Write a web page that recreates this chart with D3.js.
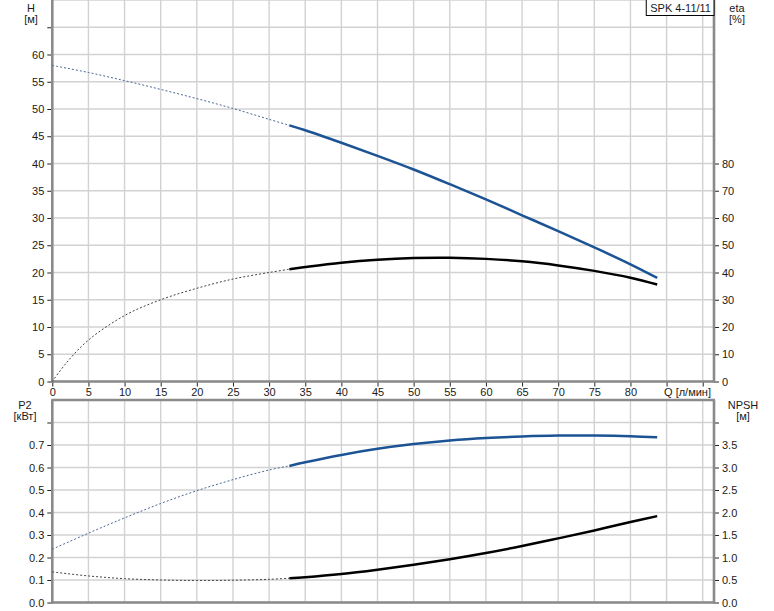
<!DOCTYPE html>
<html>
<head>
<meta charset="utf-8">
<script src="https://cdn.jsdelivr.net/npm/d3@7"></script>
<style>
  html, body { margin: 0; padding: 0; background: #fff; }
  svg { display: block; font-family: "Liberation Sans", Arial, sans-serif; }
</style>
</head>
<body>
<svg id="chart" width="774" height="611"></svg>
<script>
// ---------------- data ----------------
const title = "SPK 4-11/11";
const opStart = 32.8; // start of solid (operating) range, л/мин

const qH = [0, 5, 10, 15, 20, 25, 30, 32.8, 35, 40, 45, 50, 55, 60, 65, 70, 75, 80, 83.7];
const headH = [58.0, 56.7, 55.2, 53.6, 51.9, 50.1, 48.1, 47.0, 46.1, 43.8, 41.4, 38.9, 36.2, 33.4, 30.5, 27.6, 24.6, 21.5, 19.0];

const qEta = [0, 2, 5, 10, 15, 20, 25, 30, 32.8, 35, 40, 45, 50, 55, 60, 65, 70, 75, 80, 83.7];
const eta = [0, 7, 15.2, 24.2, 30.0, 34.2, 37.6, 40.0, 41.2, 42.0, 43.6, 44.7, 45.3, 45.4, 45.0, 44.1, 42.6, 40.6, 38.1, 35.6];

const qP = [0, 5, 10, 15, 20, 25, 30, 32.8, 35, 40, 45, 50, 55, 60, 65, 70, 75, 80, 83.7];
const p2 = [0.237, 0.308, 0.376, 0.440, 0.497, 0.546, 0.589, 0.607, 0.623, 0.656, 0.683, 0.704, 0.720, 0.731, 0.738, 0.742, 0.742, 0.739, 0.734];
const npsh = [0.68, 0.59, 0.53, 0.50, 0.49, 0.495, 0.515, 0.54, 0.562, 0.632, 0.728, 0.838, 0.962, 1.10, 1.255, 1.425, 1.60, 1.79, 1.92];

const qTicks = [0, 5, 10, 15, 20, 25, 30, 35, 40, 45, 50, 55, 60, 65, 70, 75, 80, 85, 90];
const qTickLabels = ["0","5","10","15","20","25","30","35","40","45","50","55","60","65","70","75","80","",""];
const hTicks = [0, 5, 10, 15, 20, 25, 30, 35, 40, 45, 50, 55, 60, 65];
const etaTicks = [0, 10, 20, 30, 40, 50, 60, 70, 80];
const p2Ticks = [0, 0.1, 0.2, 0.3, 0.4, 0.5, 0.6, 0.7, 0.8];
const npshTicks = [0, 0.5, 1.0, 1.5, 2.0, 2.5, 3.0, 3.5, 4.0];

// ---------------- layout ----------------
const svg = d3.select("#chart");
const X0 = 52.3, X1 = 714;
const topY0 = 0, topY1 = 381.5;
const botY0 = 400, botY1 = 602.5;

const x = d3.scaleLinear().domain([0, 91.56]).range([X0, X1]);
const yH = d3.scaleLinear().domain([0, 70]).range([topY1, topY0]);
const yEta = d3.scaleLinear().domain([0, 140]).range([topY1, topY0]);
const yP = d3.scaleLinear().domain([0, 0.9]).range([botY1, botY0]);
const yN = d3.scaleLinear().domain([0, 4.5]).range([botY1, botY0]);

const gridColor = "#d2d2d2";
const axisColor = "#8a8a8a";
const textColor = "#1a1a1a";
const blue = "#1b5394";

function grid(yScale, yDomainTicks, yTop, yBot) {
  const g = svg.append("g");
  g.selectAll("line.v").data(d3.range(0, 95, 5)).enter().append("line")
    .attr("x1", d => x(d)).attr("x2", d => x(d))
    .attr("y1", yTop).attr("y2", yBot)
    .attr("stroke", gridColor).attr("stroke-width", 1.4);
  g.selectAll("line.h").data(yDomainTicks).enter().append("line")
    .attr("x1", X0).attr("x2", X1)
    .attr("y1", d => yScale(d)).attr("y2", d => yScale(d))
    .attr("stroke", gridColor).attr("stroke-width", 1.4);
}

grid(yH, d3.range(0, 75, 5), topY0, topY1);
grid(yP, d3.range(0, 0.95, 0.1), botY0, botY1);

function styleAxis(g) {
  g.select(".domain").remove();
  g.selectAll(".tick line").attr("stroke", "#222").attr("stroke-width", 1);
  g.selectAll(".tick text").attr("fill", textColor).attr("font-size", 11)
    .attr("font-family", "'Liberation Sans', Arial, sans-serif");
}

svg.append("g").attr("transform", `translate(${X0},0)`)
  .call(d3.axisLeft(yH).tickValues(hTicks).tickSize(5).tickPadding(3)
    .tickFormat(d => d === 65 ? "" : d3.format("d")(d)))
  .call(styleAxis);
svg.append("g").attr("transform", `translate(${X1},0)`)
  .call(d3.axisRight(yEta).tickValues(etaTicks).tickSize(5).tickPadding(3).tickFormat(d3.format("d")))
  .call(styleAxis);
svg.append("g").attr("transform", `translate(0,${topY1})`)
  .call(d3.axisBottom(x).tickValues(qTicks).tickSize(5).tickPadding(2)
    .tickFormat((d, i) => qTickLabels[i]))
  .call(styleAxis);

svg.append("g").attr("transform", `translate(${X0},0)`)
  .call(d3.axisLeft(yP).tickValues(p2Ticks).tickSize(5).tickPadding(3)
    .tickFormat(d => Math.abs(d - 0.8) < 1e-9 ? "" : d3.format(".1f")(d)))
  .call(styleAxis);
svg.append("g").attr("transform", `translate(${X1},0)`)
  .call(d3.axisRight(yN).tickValues(npshTicks).tickSize(5).tickPadding(3)
    .tickFormat(d => d === 4 ? "" : d3.format(".1f")(d)))
  .call(styleAxis);

const frame = svg.append("g").attr("stroke", axisColor).attr("stroke-width", 2.6).attr("fill", "none");
frame.append("line").attr("x1", X0).attr("x2", X0).attr("y1", topY0).attr("y2", topY1 + 1);
frame.append("line").attr("x1", X1).attr("x2", X1).attr("y1", topY0).attr("y2", topY1 + 1);
frame.append("line").attr("x1", X0 - 1).attr("x2", X1 + 1).attr("y1", topY1).attr("y2", topY1);
frame.append("line").attr("x1", X0).attr("x2", X0).attr("y1", botY0).attr("y2", botY1 + 1);
frame.append("line").attr("x1", X1).attr("x2", X1).attr("y1", botY0).attr("y2", botY1 + 1);
frame.append("line").attr("x1", X0 - 1).attr("x2", X1 + 1).attr("y1", botY0).attr("y2", botY0);
frame.append("line").attr("x1", X0 - 1).attr("x2", X1 + 1).attr("y1", botY1).attr("y2", botY1);

function drawCurve(qs, vals, yScale, color, dotColor) {
  const pts = qs.map((q, i) => [q, vals[i]]);
  const line = d3.line().x(d => x(d[0])).y(d => yScale(d[1])).curve(d3.curveCatmullRom.alpha(0.5));
  const dotted = pts.filter(d => d[0] <= opStart + 1e-9);
  const solid = pts.filter(d => d[0] >= opStart - 1e-9);
  svg.append("path").attr("d", line(dotted)).attr("fill", "none")
    .attr("stroke", dotColor).attr("stroke-width", 1).attr("stroke-dasharray", "2,2");
  svg.append("path").attr("d", line(solid)).attr("fill", "none")
    .attr("stroke", color).attr("stroke-width", 2.5);
}
drawCurve(qH, headH, yH, blue, "#4a6896");
drawCurve(qEta, eta, yEta, "#000", "#444");
drawCurve(qP, p2, yP, blue, "#4a6896");
drawCurve(qP, npsh, yN, "#000", "#444");

function label(txt, xx, yy, anchor) {
  svg.append("text").attr("x", xx).attr("y", yy).attr("font-size", 11)
    .attr("fill", textColor).attr("text-anchor", anchor || "middle").text(txt);
}
label("H", 31, 12);
label("[м]", 31, 23);
label("eta", 737, 12);
label("[%]", 737, 23);
label("P2", 25, 409);
label("[кВт]", 25, 420);
label("NPSH", 743, 409);
label("[м]", 743, 420);
label("Q [л/мин]", 711, 396, "end");

const tb = svg.append("g");
const tt = tb.append("text").attr("x", 711).attr("y", 12).attr("font-size", 11)
  .attr("text-anchor", "end").attr("fill", textColor).text(title);
const bb = tt.node().getBBox();
tb.insert("rect", "text").attr("x", bb.x - 4).attr("y", -1)
  .attr("width", X1 - (bb.x - 4)).attr("height", 16.5)
  .attr("fill", "#fff").attr("stroke", "#000").attr("stroke-width", 1);
</script>
</body>
</html>
